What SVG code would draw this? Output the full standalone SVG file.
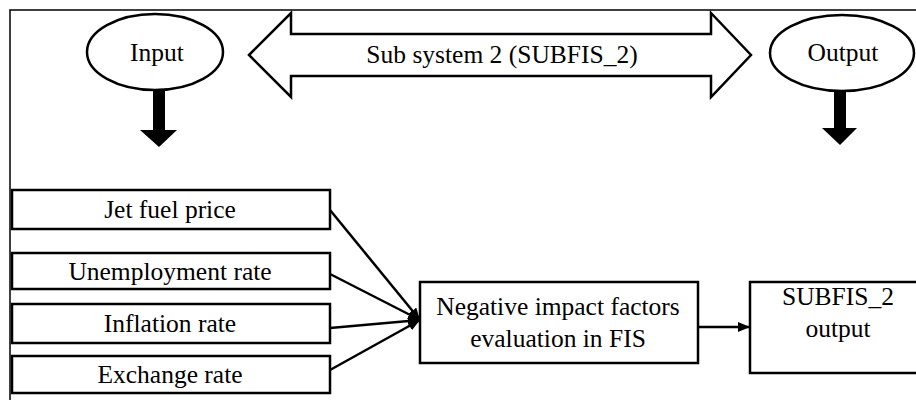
<svg xmlns="http://www.w3.org/2000/svg" width="916" height="400" viewBox="0 0 916 400">
<style>
text{font-family:"Liberation Serif","Times New Roman",serif;font-size:25.5px;fill:#000;text-anchor:middle}
.box{fill:#fff;stroke:#000;stroke-width:2.5}
.ell{fill:#fff;stroke:#000;stroke-width:2.5}
.con{stroke:#000;stroke-width:2.5;fill:none}
</style>
<defs>
<marker id="ah" markerUnits="userSpaceOnUse" markerWidth="13" markerHeight="12" refX="12" refY="5" orient="auto">
<path d="M0,0 L12,5 L0,10 z" fill="#000"/>
</marker>
</defs>
<rect width="916" height="400" fill="#fff"/>
<path d="M10,400 V10 H916" fill="none" stroke="#000" stroke-width="1.5"/>
<g id="input">
<ellipse class="ell" cx="155" cy="52" rx="68" ry="38"/>
<text x="157" y="61">Input</text>
<rect x="153" y="90" width="12" height="41" fill="#000"/>
<polygon points="140,130 177,130 159,147" fill="#000"/>
</g>
<g id="subsystem">
<polygon points="249,55 291,13 291,34 711,34 711,13 751,55 711,97 711,76 291,76 291,97" fill="#fff" stroke="#000" stroke-width="2.5" stroke-linejoin="miter"/>
<text x="502" y="63">Sub system 2 (SUBFIS_2)</text>
</g>
<g id="output">
<ellipse class="ell" cx="842" cy="53" rx="72" ry="38"/>
<text x="843" y="61">Output</text>
<rect x="834" y="91" width="12" height="38" fill="#000"/>
<polygon points="822,128 857,128 840,145" fill="#000"/>
</g>
<g id="jet">
<rect class="box" x="12" y="190" width="318" height="39"/>
<text x="170" y="218">Jet fuel price</text>
</g>
<g id="unemployment">
<rect class="box" x="12" y="253" width="318" height="36"/>
<text x="170" y="280">Unemployment rate</text>
</g>
<g id="inflation">
<rect class="box" x="12" y="304" width="318" height="39"/>
<text x="170" y="332">Inflation rate</text>
</g>
<g id="exchange">
<rect class="box" x="12" y="356" width="318" height="37"/>
<text x="170" y="383">Exchange rate</text>
</g>
<g id="fis">
<rect class="box" x="420" y="282" width="278" height="81"/>
<text x="558" y="315">Negative impact factors</text>
<text x="558" y="347">evaluation in FIS</text>
</g>
<g id="subfis-output">
<rect class="box" x="750" y="282" width="180" height="91"/>
<text x="838" y="305">SUBFIS_2</text>
<text x="838" y="337">output</text>
</g>
<g id="connectors">
<line class="con" x1="330" y1="210" x2="420" y2="320" marker-end="url(#ah)"/>
<line class="con" x1="330" y1="274" x2="420" y2="320" marker-end="url(#ah)"/>
<line class="con" x1="330" y1="328" x2="420" y2="320" marker-end="url(#ah)"/>
<line class="con" x1="330" y1="370" x2="420" y2="320" marker-end="url(#ah)"/>
<line class="con" x1="698" y1="327" x2="750" y2="327" marker-end="url(#ah)"/>
</g>
</svg>
